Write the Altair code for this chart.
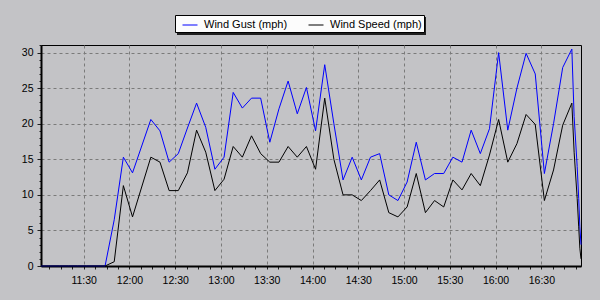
import altair as alt
import pandas as pd

# ---- data ----
times = ["11:02", "11:08", "11:14", "11:20", "11:26", "11:32", "11:38", "11:44",
         "11:50", "11:56", "12:02", "12:14", "12:20", "12:26", "12:32", "12:38",
         "12:44", "12:50", "12:56", "13:02", "13:08", "13:14", "13:20", "13:26",
         "13:32", "13:38", "13:44", "13:50", "13:56", "14:02", "14:08", "14:14",
         "14:20", "14:26", "14:32", "14:38", "14:44", "14:50", "14:56", "15:02",
         "15:08", "15:14", "15:20", "15:26", "15:32", "15:38", "15:44", "15:50",
         "15:56", "16:02", "16:08", "16:14", "16:20", "16:26", "16:32", "16:38",
         "16:44", "16:50", "16:51:30", "16:53:30", "16:54:30", "16:55:15", "16:56"]
gust = [0, 0, 0, 0, 0, 0, 0, 0,
        6.5, 15.3, 13.1, 20.6, 19.0, 14.6, 15.8, 19.4,
        22.9, 19.5, 13.6, 15.3, 24.4, 22.2, 23.6, 23.6,
        17.4, 22.1, 26.0, 21.4, 25.1, 19.0, 28.3, 20.0,
        12.1, 15.3, 12.1, 15.3, 15.8, 10.0, 9.2, 11.8,
        17.4, 12.1, 13.0, 13.0, 15.3, 14.6, 19.1, 15.8,
        19.3, 30.0, 19.1, 25.0, 29.9, 27.0, 13.0, 20.0,
        27.9, 30.5, 21.0, 14.0, 9.5, 5.5, 3.0]
speed = [0, 0, 0, 0, 0, 0, 0, 0,
         0.6, 11.3, 6.9, 15.3, 14.6, 10.6, 10.6, 13.1,
         19.1, 16.0, 10.6, 12.2, 16.8, 15.3, 18.3, 15.8,
         14.6, 14.6, 16.8, 15.3, 16.8, 13.6, 23.6, 15.0,
         10.0, 10.0, 9.2, 10.6, 12.1, 7.5, 6.9, 8.3,
         13.0, 7.5, 9.2, 8.3, 12.1, 10.7, 13.0, 11.3,
         15.6, 20.6, 14.6, 17.2, 21.3, 19.9, 9.2, 13.5,
         19.8, 22.9, 16.0, 9.5, 5.5, 2.5, 1.0]
series_names = ["Wind Gust (mph)", "Wind Speed (mph)"]
series_colors = ["#0000ff", "#000000"]


def iso(t):
    return "2024-01-01T" + (t if t.count(":") == 2 else t + ":00")


def dt(h, m, s=0):
    return alt.DateTime(year=2024, month=1, date=1, hours=h, minutes=m, seconds=s)


df = pd.DataFrame({"time": [iso(t) for t in times],
                   series_names[0]: gust,
                   series_names[1]: speed})

# minor ticks every 7.5 minutes, labelled / gridded every 30 minutes
xvals = []
m = 11 * 60 + 7.5
while m <= 16 * 60 + 52.5:
    mm = int(m)
    xvals.append(dt(mm // 60, mm % 60, int(round((m - mm) * 60))))
    m += 7.5

xmajor = "minutes(datum.value) % 30 == 0 && seconds(datum.value) == 0"
ymajor = "datum.value % 5 == 0"

FONT = "Liberation Sans"

x_axis = alt.Axis(
    values=xvals, title=None,
    labelExpr=f"{xmajor} ? timeFormat(datum.value, '%H:%M') : ''",
    grid=True, gridColor="#7a7a7a", gridDash=[3, 3],
    gridOpacity={"condition": {"test": xmajor, "value": 1}, "value": 0},
    tickSize=3, tickColor="#202020", domainColor="#000000", domainWidth=2,
    labelFont=FONT, labelFontSize=10.5, labelColor="#000000", labelPadding=6,
    labelFlush=False, labelOverlap=False,
)
y_axis = alt.Axis(
    values=list(range(0, 32)), title=None,
    labelExpr=f"{ymajor} ? datum.label : ''",
    grid=True, gridColor="#7a7a7a", gridDash=[3, 3],
    gridOpacity={"condition": {"test": f"{ymajor} && datum.value > 0", "value": 1}, "value": 0},
    tickSize={"condition": {"test": ymajor, "value": 4}, "value": 2},
    tickColor="#202020", domainColor="#000000", domainWidth=2,
    labelFont=FONT, labelFontSize=10.5, labelColor="#000000", labelPadding=4,
    labelOverlap=False,
)

lines = alt.Chart(df).transform_fold(
    series_names, as_=["series", "value"]
).mark_line(strokeWidth=1).encode(
    x=alt.X("time:T", scale=alt.Scale(domain=[dt(11, 2), dt(16, 56)]), axis=x_axis),
    y=alt.Y("value:Q", scale=alt.Scale(domain=[0, 31.07], nice=False), axis=y_axis),
    color=alt.Color(
        "series:N",
        scale=alt.Scale(domain=series_names, range=series_colors),
        legend=alt.Legend(
            title=None, orient="none", legendX=134, legendY=-30,
            direction="horizontal", fillColor="#fcfcfc", strokeColor="#000000",
            padding=2, symbolType="stroke", symbolSize=225, symbolStrokeWidth=1,
            symbolOffset=5, labelOffset=6, columnPadding=15,
            labelFont=FONT, labelFontSize=11, labelColor="#000000",
        ),
    ),
)

shadow = alt.Chart(pd.DataFrame({"k": [0]})).mark_rect(color="#202020").encode(
    x=alt.value(136), x2=alt.value(385), y=alt.value(-28), y2=alt.value(-10)
)

chart = alt.layer(shadow, lines).properties(
    width=540, height=221,
    autosize=alt.AutoSizeParams(type="none"),
    padding={"left": 41, "top": 45, "right": 19, "bottom": 34},
    background="#c3c3c6",
).configure_view(stroke="#000000", strokeWidth=1, fill="#c3c3c6")

chart.save("out.html", embed_options={"renderer": "svg", "actions": False})
